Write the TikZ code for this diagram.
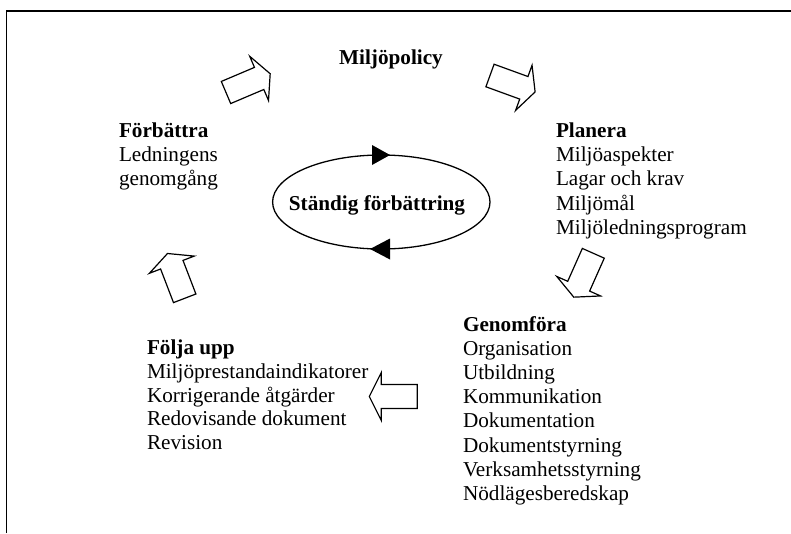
\documentclass[tikz,border=0pt]{standalone}
\usepackage{fontspec}
\setmainfont{Liberation Serif}
\usetikzlibrary{calc,shapes.geometric}
\tikzset{
  lbl/.style={font=\fontsize{21.2pt}{24.2pt}\selectfont, inner sep=0pt, outer sep=0pt, anchor=base west},
  headlbl/.style={lbl, font=\fontsize{21.2pt}{24.2pt}\selectfont\bfseries},
  arrowline/.style={draw=black, line width=1.2pt, fill=white, line join=miter},
  blockarrow/.pic={\path[arrowline] (0,-12) -- (36,-12) -- (36,-24) -- (48,0) -- (36,24) -- (36,12) -- (0,12) -- cycle;},
  frameline/.style={line width=1.3pt},
  loopshape/.style={draw, ellipse, line width=1.3pt, inner sep=0pt, outer sep=0pt,
    minimum width=217.4pt, minimum height=94pt},
}
\begin{document}
\begin{tikzpicture}[x=1pt,y=-1pt]
\useasboundingbox (0,0) rectangle (791,533);
% frame (only top and left edges visible)
\coordinate (fbl) at (6.5,533);
\coordinate (ftl) at (6.5,11);
\coordinate (ftr) at (791,11);
\draw[frameline] (fbl) -- (ftl) -- (ftr);

% central cycle
\node[loopshape] (loop) at (381.3,202) {};
\node[headlbl, anchor=base] (looptext) at (377,210) {Ständig förbättring};
\fill ($(loop.north)+(8.7,0)$) -- ($(loop.north)+(-9.3,-10)$) -- ($(loop.north)+(-9.3,10)$) -- cycle;
\fill ($(loop.south)+(-11.3,0)$) -- ($(loop.south)+(8.7,-10.5)$) -- ($(loop.south)+(8.7,10.5)$) -- cycle;

% Miljöpolicy
\node[headlbl, anchor=base] (policy) at (391,64) {Miljöpolicy};

% Planera
\node[headlbl] (plan0) at (556,137.5) {Planera};
\foreach \t [count=\i] in {Miljöaspekter, Lagar och krav, Miljömål, Miljöledningsprogram}
  \node[lbl] (plan\i) at (556,137.5+24.2*\i) {\t};

% Förbättra
\node[headlbl] (forb0) at (119,137.5) {Förbättra};
\foreach \t [count=\i] in {Ledningens, genomgång}
  \node[lbl] (forb\i) at (119,137.5+24.2*\i) {\t};

% Genomföra
\node[headlbl] (gen0) at (463,331) {Genomföra};
\foreach \t [count=\i] in {Organisation, Utbildning, Kommunikation, Dokumentation, Dokumentstyrning, Verksamhetsstyrning, Nödlägesberedskap}
  \node[lbl] (gen\i) at (463,331+24.2*\i) {\t};

% Följa upp
\node[headlbl] (folj0) at (147,354.5) {Följa upp};
\foreach \t [count=\i] in {Miljöprestandaindikatorer, Korrigerande åtgärder, Redovisande dokument, Revision}
  \node[lbl] (folj\i) at (147,354.5+23.8*\i) {\t};

% block arrows (tail centre, direction)
\pic[rotate=23] at (226,92.5) {blockarrow};
\pic[rotate=-20] at (490,75.5) {blockarrow};
\pic[rotate=-114] at (593.3,253.3) {blockarrow};
\pic[rotate=180] at (417.3,396.5) {blockarrow};
\pic[rotate=111] at (184.7,298.3) {blockarrow};
\end{tikzpicture}
\end{document}
